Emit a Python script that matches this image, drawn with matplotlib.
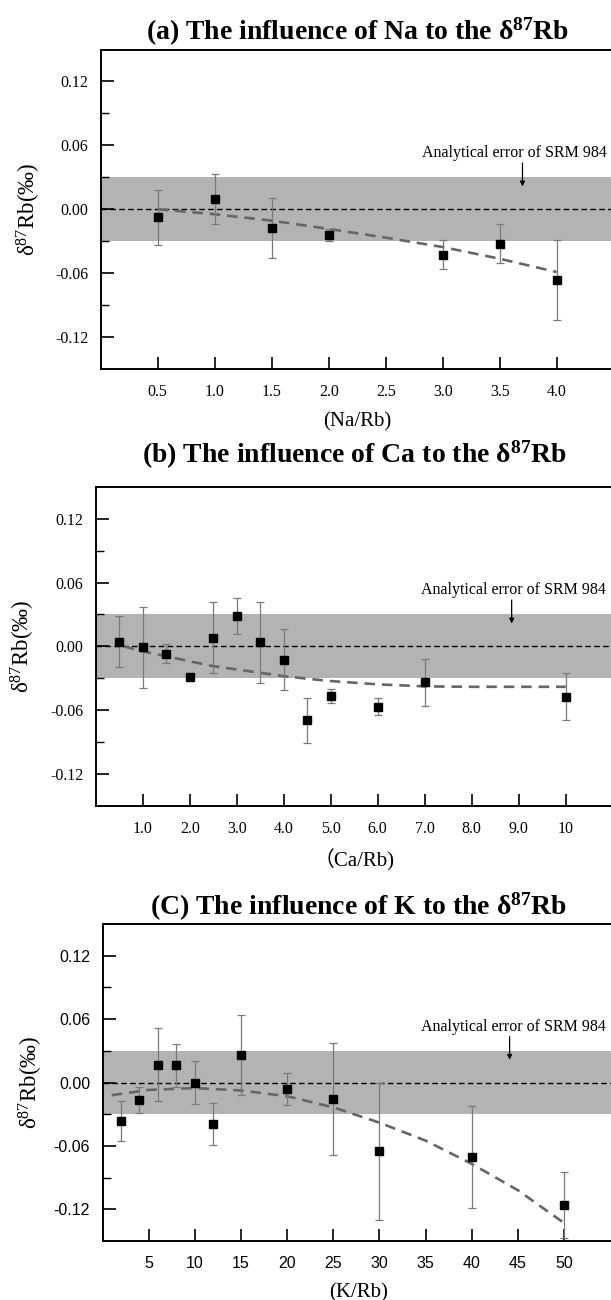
import numpy as np
import matplotlib
matplotlib.use("Agg")
import matplotlib.pyplot as plt

plt.rcParams['font.family'] = ['Liberation Serif', 'Noto Sans CJK SC', 'DejaVu Sans']
plt.rcParams['mathtext.fontset'] = 'custom'
plt.rcParams['mathtext.rm'] = 'Liberation Serif'
plt.rcParams['mathtext.it'] = 'Liberation Serif:italic'
plt.rcParams['mathtext.bf'] = 'Liberation Serif:bold'

# (a) Na
na_x = [0.5, 1.0, 1.5, 2.0, 3.0, 3.5, 4.0]
na_y = [-0.0075, 0.0097, -0.0176, -0.0239, -0.0427, -0.0323, -0.0662]
na_err = [0.026, 0.0235, 0.028, 0.0055, 0.0135, 0.018, 0.0375]
na_fit_x = [0.5, 1.0, 1.5, 2.0, 2.5, 3.0, 3.5, 4.0]
na_fit_y = [0.0, -0.0047, -0.0107, -0.0185, -0.0267, -0.0355, -0.0465, -0.059]
na_ticks = [0.5, 1.0, 1.5, 2.0, 2.5, 3.0, 3.5, 4.0]
na_labels = ['0.5', '1.0', '1.5', '2.0', '2.5', '3.0', '3.5', '4.0']

# (b) Ca
ca_x = [0.5, 1.0, 1.5, 2.0, 2.5, 3.0, 3.5, 4.0, 4.5, 5.0, 6.0, 7.0, 10.0]
ca_y = [0.0043, -0.001, -0.0068, -0.0289, 0.0081, 0.0286, 0.0037, -0.0124,
        -0.0696, -0.0466, -0.0568, -0.0339, -0.0472]
ca_err = [0.024, 0.038, 0.0087, 0.003, 0.0335, 0.017, 0.038, 0.029,
          0.0215, 0.007, 0.008, 0.0217, 0.0217]
ca_fit_x = [0.6, 1.0, 1.5, 2.0, 2.5, 3.0, 3.5, 4.0, 4.5, 5.0, 6.0, 7.0, 8.0, 9.0, 10.0]
ca_fit_y = [0.0, -0.0047, -0.0093, -0.014, -0.0186, -0.0217, -0.0248, -0.028,
            -0.0304, -0.0326, -0.0357, -0.0376, -0.038, -0.038, -0.038]
ca_ticks = [1, 2, 3, 4, 5, 6, 7, 8, 9, 10]
ca_labels = ['1.0', '2.0', '3.0', '4.0', '5.0', '6.0', '7.0', '8.0', '9.0', '10']

# (c) K
k_x = [2, 4, 6, 8, 10, 12, 15, 20, 25, 30, 40, 50]
k_y = [-0.0368, -0.0167, 0.017, 0.0163, -0.0003, -0.0396, 0.026, -0.006,
       -0.016, -0.065, -0.0707, -0.116]
k_err = [0.019, 0.0123, 0.0345, 0.0206, 0.0203, 0.02, 0.0378, 0.015,
         0.053, 0.065, 0.048, 0.031]
k_fit_x = [1, 5, 10, 15, 20, 25, 30, 35, 40, 45, 50]
k_fit_y = [-0.012, -0.007, -0.0053, -0.0075, -0.013, -0.0235, -0.038, -0.055,
           -0.077, -0.102, -0.133]
k_ticks = [5, 10, 15, 20, 25, 30, 35, 40, 45, 50]
k_labels = ['5', '10', '15', '20', '25', '30', '35', '40', '45', '50']

y_ticks = [0.12, 0.06, 0.0, -0.06, -0.12]
y_labels = ['0.12', '0.06', '0.00', '-0.06', '-0.12']
y_minor = [0.09, 0.03, -0.03, -0.09]

panels = [
    dict(title='(a) The influence of Na to the δ$^{\\mathbf{87}}$Rb', xlabel='(Na/Rb)',
         x=na_x, y=na_y, err=na_err, fx=na_fit_x, fy=na_fit_y,
         ticks=na_ticks, labels=na_labels, xlim=(0, 4.5), tpad=6.7,
         pos=[0.1648, 0.7162, 0.8396, 0.2457], arrow_x=3.7, text_x=4.44, sans=False),
    dict(title='(b) The influence of Ca to the δ$^{\\mathbf{87}}$Rb', xlabel='（Ca/Rb)',
         x=ca_x, y=ca_y, err=ca_err, fx=ca_fit_x, fy=ca_fit_y,
         ticks=ca_ticks, labels=ca_labels, xlim=(0, 11), tpad=17,
         pos=[0.1566, 0.38, 0.8462, 0.2456], arrow_x=8.85, text_x=10.85, sans=False),
    dict(title='(C) The influence of K to the δ$^{\\mathbf{87}}$Rb', xlabel='(K/Rb)',
         x=k_x, y=k_y, err=k_err, fx=k_fit_x, fy=k_fit_y,
         ticks=k_ticks, labels=k_labels, xlim=(0, 55.5), tpad=7,
         pos=[0.1678, 0.0454, 0.8385, 0.2438], arrow_x=44.1, text_x=54.5, sans=True),
]

fig = plt.figure(figsize=(6.11, 13.0), dpi=100)

for p in panels:
    ax = fig.add_axes(p['pos'])
    ax.set_xlim(p['xlim'])
    ax.set_ylim(-0.15, 0.15)

    ax.axhspan(-0.03, 0.03, color='#b3b3b3', lw=0, zorder=0)
    ax.axhline(0, color='black', lw=1.0, dashes=(4, 2.4), zorder=1)
    ax.plot(p['fx'], p['fy'], color='#666666', lw=1.9, dashes=(4, 2.6), zorder=2)
    ax.errorbar(p['x'], p['y'], yerr=p['err'], fmt='s', color='black', ms=6,
                ecolor='#7a7a7a', elinewidth=0.9, capsize=3, capthick=0.9, zorder=3)

    ax.annotate('', xy=(p['arrow_x'], 0.0215), xytext=(p['arrow_x'], 0.0435),
                arrowprops=dict(arrowstyle='-|>', color='black', lw=0.9,
                                mutation_scale=7, shrinkA=0, shrinkB=0))
    ax.text(p['text_x'], 0.049, 'Analytical error of SRM 984', ha='right',
            va='baseline', fontsize=11.5)

    ax.set_xticks(p['ticks'])
    ax.set_xticklabels(p['labels'])
    ax.set_yticks(y_ticks)
    ax.set_yticklabels(y_labels)
    ax.set_yticks(y_minor, minor=True)
    ax.tick_params(which='major', direction='in', length=9, width=1.2,
                   labelsize=11.5, pad=9)
    ax.tick_params(axis='x', which='major', pad=10.5)
    ax.tick_params(which='minor', direction='in', length=5.5, width=1.0)
    if p['sans']:
        for lab in ax.get_xticklabels() + ax.get_yticklabels():
            lab.set_family('Liberation Sans')

    for side in ['left', 'bottom', 'top']:
        ax.spines[side].set_linewidth(1.4)
    ax.spines['right'].set_visible(False)

    ax.set_title(p['title'], fontsize=20, fontweight='bold', pad=p['tpad'])
    ax.set_xlabel(p['xlabel'], fontsize=15, labelpad=9)
    ax.set_ylabel('δ$^{87}$Rb(‰)', fontsize=16.5)
    ax.yaxis.set_label_coords(-0.113, 0.5)

fig.savefig('out.png', dpi=100)
